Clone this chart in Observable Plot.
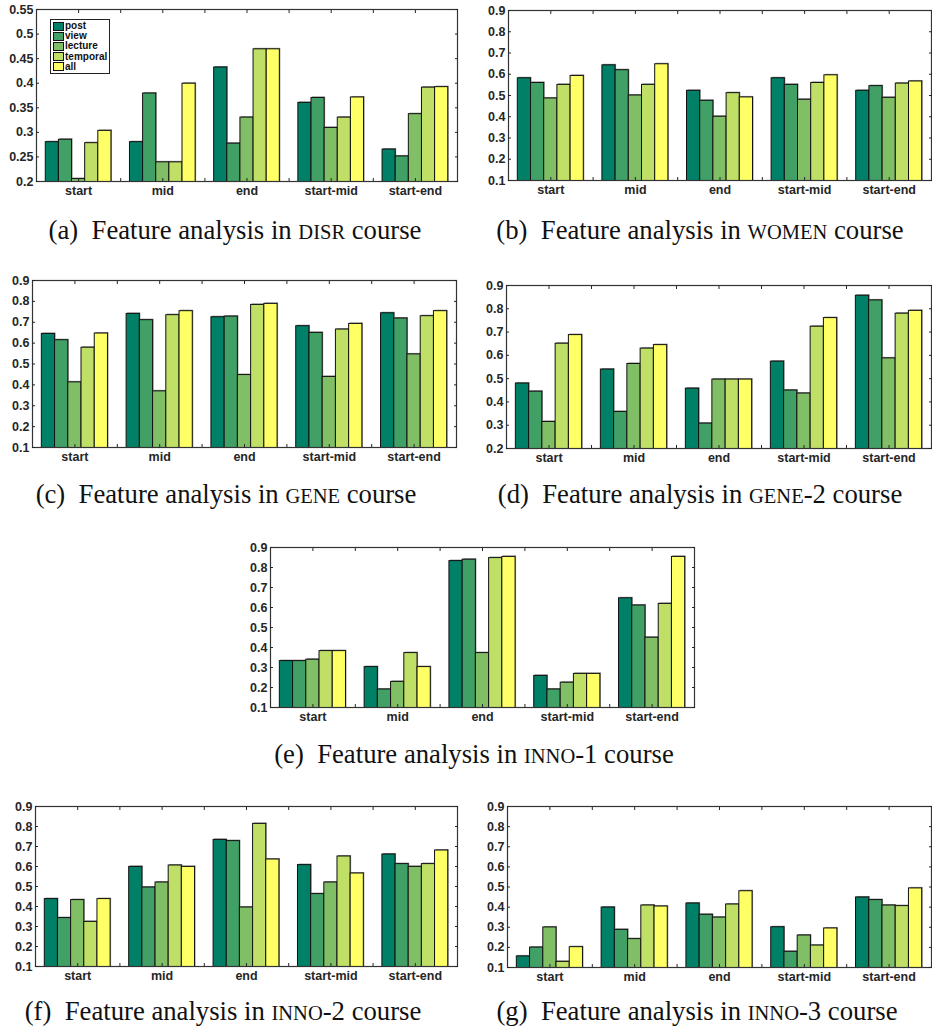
<!DOCTYPE html>
<html>
<head>
<meta charset="utf-8">
<script src="https://cdn.jsdelivr.net/npm/d3@7"></script>
<script src="https://cdn.jsdelivr.net/npm/@observablehq/plot@0.6"></script>
<style>
  body { margin: 0; background: #fff; }
  #page { position: relative; width: 932px; height: 1028px; overflow: hidden; background: #fff; }
  .panel { position: absolute; }
  .panel svg { display: block; }
  .cap { position: absolute; width: 560px; text-align: center; line-height: 30px;
         font-family: "Liberation Serif", "Times New Roman", serif; font-size: 26.7px; color: #111; white-space: nowrap; }
  .sc { font-size: 20.5px; }
  .legend { position: absolute; border: 1px solid #222; background: #fff; padding: 1px 2px 1px 2px;
            font-family: "Liberation Sans", Arial, sans-serif; font-weight: bold; font-size: 10px; line-height: 10.2px; color: #111; }
  .legend .row { display: flex; align-items: center; height: 10.2px; }
  .legend .sw { width: 9px; height: 7px; border: 1px solid #111; margin-right: 1px; }
</style>
</head>
<body>
<div id="page"></div>
<script>
// ---- categories ----
const groups = ["start", "mid", "end", "start-mid", "start-end"];
const series = ["post", "view", "lecture", "temporal", "all"];
const seriesColors = ["#008066", "#40A066", "#80BF66", "#BFDF66", "#FFFF66"];

// ---- values: one row per group, columns in series order ----
const disr = [
  [0.280, 0.285, 0.205, 0.278, 0.303],
  [0.280, 0.379, 0.239, 0.239, 0.399],
  [0.432, 0.277, 0.330, 0.469, 0.469],
  [0.360, 0.370, 0.309, 0.330, 0.371],
  [0.265, 0.251, 0.337, 0.391, 0.392]
];
const women = [
  [0.581, 0.559, 0.486, 0.550, 0.592],
  [0.642, 0.619, 0.500, 0.550, 0.647],
  [0.522, 0.475, 0.400, 0.511, 0.491],
  [0.581, 0.550, 0.480, 0.559, 0.595],
  [0.522, 0.544, 0.489, 0.556, 0.566]
];
const gene = [
  [0.644, 0.614, 0.412, 0.578, 0.646],
  [0.740, 0.710, 0.369, 0.734, 0.753],
  [0.724, 0.727, 0.447, 0.783, 0.788],
  [0.681, 0.649, 0.438, 0.665, 0.692],
  [0.743, 0.718, 0.546, 0.729, 0.753]
];
const gene2 = [
  [0.479, 0.444, 0.314, 0.650, 0.687],
  [0.539, 0.357, 0.563, 0.629, 0.644],
  [0.457, 0.307, 0.496, 0.496, 0.496],
  [0.573, 0.449, 0.436, 0.723, 0.760],
  [0.856, 0.836, 0.587, 0.779, 0.791]
];
const inno1 = [
  [0.332, 0.332, 0.339, 0.382, 0.382],
  [0.302, 0.190, 0.228, 0.372, 0.302],
  [0.832, 0.839, 0.372, 0.847, 0.853],
  [0.258, 0.190, 0.224, 0.268, 0.268],
  [0.646, 0.610, 0.449, 0.618, 0.853]
];
const inno2 = [
  [0.437, 0.342, 0.432, 0.323, 0.437],
  [0.598, 0.495, 0.520, 0.605, 0.598],
  [0.733, 0.727, 0.395, 0.813, 0.635],
  [0.607, 0.462, 0.520, 0.650, 0.565],
  [0.660, 0.612, 0.598, 0.612, 0.680]
];
const inno3 = [
  [0.155, 0.199, 0.299, 0.128, 0.201],
  [0.398, 0.287, 0.241, 0.408, 0.403],
  [0.418, 0.362, 0.348, 0.413, 0.479],
  [0.300, 0.178, 0.259, 0.209, 0.294],
  [0.448, 0.435, 0.408, 0.405, 0.493]
];

// ---- tick labels ----
const ticksDisr = [0.2, 0.25, 0.3, 0.35, 0.4, 0.45, 0.5, 0.55];
const ticks01 = [0.1, 0.2, 0.3, 0.4, 0.5, 0.6, 0.7, 0.8, 0.9];
const ticks02 = [0.2, 0.3, 0.4, 0.5, 0.6, 0.7, 0.8, 0.9];

// ---- layout ----
const GROUP_WIDTH = 0.78; // fraction of a category slot filled by its bars
const panels = [
  {values: disr,  domain: [0.2, 0.55], ticks: ticksDisr, left: 0,   top: 0,   width: 466, height: 201, ml: 36, mr: 9, mt: 9,  mb: 20, legend: true},
  {values: women, domain: [0.1, 0.9],  ticks: ticks01,   left: 466, top: 0,   width: 466, height: 200, ml: 42, mr: 1, mt: 10, mb: 20},
  {values: gene,  domain: [0.1, 0.9],  ticks: ticks01,   left: 0,   top: 270, width: 466, height: 197, ml: 32, mr: 10, mt: 10, mb: 20},
  {values: gene2, domain: [0.2, 0.9],  ticks: ticks02,   left: 466, top: 275, width: 466, height: 193, ml: 40, mr: 1, mt: 10, mb: 20},
  {values: inno1, domain: [0.1, 0.9],  ticks: ticks01,   left: 230, top: 537, width: 470, height: 190, ml: 40, mr: 6, mt: 10, mb: 20},
  {values: inno2, domain: [0.1, 0.9],  ticks: ticks01,   left: 0,   top: 796, width: 466, height: 190, ml: 35, mr: 9, mt: 10, mb: 20},
  {values: inno3, domain: [0.1, 0.9],  ticks: ticks01,   left: 466, top: 796, width: 466, height: 191, ml: 41, mr: 1, mt: 10, mb: 20}
];
const captions = [
  {label: "(a)", course: "DISR", suffix: "",   cx: 235, cy: 230},
  {label: "(b)", course: "WOMEN", suffix: "",  cx: 700, cy: 230},
  {label: "(c)", course: "GENE", suffix: "",   cx: 226, cy: 494},
  {label: "(d)", course: "GENE", suffix: "-2", cx: 700, cy: 494},
  {label: "(e)", course: "INNO", suffix: "-1", cx: 474, cy: 754},
  {label: "(f)", course: "INNO", suffix: "-2", cx: 223, cy: 1011},
  {label: "(g)", course: "INNO", suffix: "-3", cx: 697, cy: 1011}
];

const halfTicks = d3.range(1, groups.length + 0.01, 0.5);
const groupTicks = d3.range(1, groups.length + 1);
const fmt = d => String(+d.toFixed(2));

function makeChart(p) {
  const rows = p.values.flatMap((row, gi) => row.map((v, si) => ({group: groups[gi], series: series[si], gi, si, value: v})));
  const bw = GROUP_WIDTH / series.length;
  const x1 = d => d.gi + 1 - GROUP_WIDTH / 2 + d.si * bw;
  const x2 = d => x1(d) + bw;
  return Plot.plot({
    width: p.width, height: p.height,
    marginLeft: p.ml, marginRight: p.mr, marginTop: p.mt, marginBottom: p.mb,
    style: {fontFamily: "'Liberation Sans', Arial, sans-serif", fontSize: "12.5px", fontWeight: "bold", color: "#262626", background: "white", overflow: "visible"},
    x: {domain: [0.5, groups.length + 0.5], label: null},
    y: {domain: p.domain, label: null},
    color: {domain: series, range: seriesColors},
    marks: [
      Plot.rect(rows, {x1, x2, y1: 0, y2: "value", fill: "#8f8f8f", dx: 1, dy: -1, clip: true}),
      Plot.rect(rows, {x1, x2, y1: 0, y2: "value", fill: "series", stroke: "#111", strokeWidth: 1, clip: true}),
      Plot.frame({stroke: "#333", strokeWidth: 1.2}),
      Plot.axisY({ticks: p.ticks, tickSize: -3, tickPadding: 6, tickFormat: fmt, label: null}),
      Plot.axisY({anchor: "right", ticks: p.ticks, tickSize: -3, tickFormat: () => "", label: null}),
      Plot.axisX({anchor: "bottom", ticks: halfTicks, tickSize: -3, tickFormat: () => "", label: null}),
      Plot.axisX({anchor: "top", ticks: halfTicks, tickSize: -3, tickFormat: () => "", label: null}),
      Plot.axisX({anchor: "bottom", ticks: groupTicks, tickSize: 0, tickPadding: 5, tickFormat: i => groups[i - 1], label: null})
    ]
  });
}

const page = document.getElementById("page");
panels.forEach(p => {
  const div = document.createElement("div");
  div.className = "panel";
  div.style.left = p.left + "px";
  div.style.top = p.top + "px";
  div.appendChild(makeChart(p));
  page.appendChild(div);
  if (p.legend) {
    const lg = document.createElement("div");
    lg.className = "legend";
    lg.style.left = (p.left + 50) + "px";
    lg.style.top = (p.top + 19) + "px";
    series.forEach((s, i) => {
      const r = document.createElement("div");
      r.className = "row";
      const sw = document.createElement("div");
      sw.className = "sw";
      sw.style.background = seriesColors[i];
      const t = document.createElement("span");
      t.textContent = s;
      r.appendChild(sw); r.appendChild(t);
      lg.appendChild(r);
    });
    page.appendChild(lg);
  }
});

captions.forEach(c => {
  const d = document.createElement("div");
  d.className = "cap";
  d.style.left = (c.cx - 280) + "px";
  d.style.top = (c.cy - 15) + "px";
  d.innerHTML = `${c.label}&nbsp; Feature analysis in <span class="sc">${c.course}</span>${c.suffix} course`;
  page.appendChild(d);
});
</script>
</body>
</html>
